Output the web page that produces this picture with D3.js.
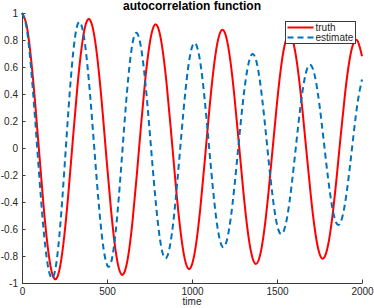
<!DOCTYPE html>
<html>
<head>
<meta charset="utf-8">
<script src="https://cdn.jsdelivr.net/npm/d3@7"></script>
<style>
  html, body { margin: 0; padding: 0; background: #fff; }
  svg { display: block; font-family: "Liberation Sans", Arial, Helvetica, sans-serif; }
</style>
</head>
<body>
<svg id="chart" width="374" height="308"></svg>
<script>
// ---- data ----
const time = [0,25,50,75,100,125,150,175,200,225,250,275,300,325,350,375,400,425,450,475,
  500,525,550,575,600,625,650,675,700,725,750,775,800,825,850,875,900,925,950,975,
  1000,1025,1050,1075,1100,1125,1150,1175,1200,1225,1250,1275,1300,1325,1350,1375,1400,1425,1450,1475,
  1500,1525,1550,1575,1600,1625,1650,1675,1700,1725,1750,1775,1800,1825,1850,1875,1900,1925,1950,1975,2000];

const truth = [1.000,0.922,0.700,0.369,-0.018,-0.400,-0.717,-0.918,-0.971,-0.872,
  -0.637,-0.304,0.075,0.442,0.737,0.916,0.949,0.834,0.590,0.254,
  -0.121,-0.475,-0.754,-0.913,-0.928,-0.798,-0.543,-0.204,0.165,0.506,
  0.765,0.901,0.894,0.746,0.484,0.147,-0.212,-0.535,-0.773,-0.889,
  -0.863,-0.703,-0.432,-0.095,0.256,0.564,0.782,0.874,0.828,0.653,
  0.376,0.043,-0.296,-0.588,-0.785,-0.859,-0.797,-0.610,-0.328,0.004,
  0.334,0.611,0.788,0.839,0.759,0.561,0.277,-0.049,-0.366,-0.624,
  -0.783,-0.816,-0.722,-0.515,-0.228,0.094,0.399,0.639,0.776,0.790,0.680];

const estimate = [1.000,0.905,0.638,0.251,-0.181,-0.575,-0.854,-0.964,-0.870,-0.574,
  -0.146,0.312,0.694,0.907,0.908,0.726,0.401,0.002,-0.393,-0.703,
  -0.865,-0.844,-0.632,-0.278,0.137,0.518,0.775,0.852,0.746,0.492,
  0.140,-0.237,-0.562,-0.768,-0.812,-0.691,-0.431,-0.085,0.274,0.573,
  0.747,0.765,0.623,0.354,0.014,-0.324,-0.589,-0.724,-0.705,-0.546,
  -0.280,0.039,0.346,0.578,0.690,0.659,0.492,0.226,-0.083,-0.367,
  -0.567,-0.638,-0.572,-0.386,-0.121,0.168,0.419,0.579,0.613,0.519,
  0.317,0.051,-0.220,-0.439,-0.557,-0.549,-0.412,-0.179,0.095,0.343,0.507];

const xTicks = [0, 500, 1000, 1500, 2000];
const yTicks = [-1, -0.8, -0.6, -0.4, -0.2, 0, 0.2, 0.4, 0.6, 0.8, 1];
const yTickLabels = ["-1", "-0.8", "-0.6", "-0.4", "-0.2", "0", "0.2", "0.4", "0.6", "0.8", "1"];
const seriesNames = ["truth", "estimate"];
const titleText = "autocorrelation function";
const xLabel = "time";

// ---- drawing ----
const svg = d3.select("#chart");
const x = d3.scaleLinear().domain([0, 2000]).range([22, 362]);
const y = d3.scaleLinear().domain([-1, 1]).range([283, 13]);

const axisColor = "#3a3a3a";

const gx = svg.append("g").attr("transform", "translate(0,283)")
  .call(d3.axisBottom(x).tickValues(xTicks).tickFormat(d3.format("d"))
    .tickSize(-3.5).tickSizeOuter(0).tickPadding(4.5));
const gy = svg.append("g").attr("transform", "translate(22,0)")
  .call(d3.axisLeft(y).tickValues(yTicks).tickFormat((d, i) => yTickLabels[i])
    .tickSize(-3.5).tickSizeOuter(0).tickPadding(4));

[gx, gy].forEach(g => {
  g.select(".domain").attr("stroke", axisColor);
  g.selectAll(".tick line").attr("stroke", axisColor);
  g.selectAll(".tick text").attr("fill", "#262626").style("font-size", "10px")
    .style("font-family", "'Liberation Sans', Arial, sans-serif");
});

const line = d3.line().x((d, i) => x(time[i])).y(d => y(d)).curve(d3.curveNatural);

svg.append("path").datum(truth)
  .attr("fill", "none").attr("stroke", "#ff0000").attr("stroke-width", 2)
  .attr("d", line);

svg.append("path").datum(estimate)
  .attr("fill", "none").attr("stroke", "#0072bd").attr("stroke-width", 2)
  .attr("stroke-dasharray", "6,4")
  .attr("d", line);

// title
svg.append("text").attr("x", 192).attr("y", 9.5).attr("text-anchor", "middle")
  .style("font-size", "12px").style("font-weight", "bold").attr("fill", "#000")
  .text(titleText);

// x label
svg.append("text").attr("x", 192).attr("y", 304.5).attr("text-anchor", "middle")
  .style("font-size", "10px").attr("fill", "#262626").text(xLabel);

// legend
const lg = svg.append("g");
lg.append("rect").attr("x", 285.5).attr("y", 21.5).attr("width", 70).attr("height", 22)
  .attr("fill", "#fff").attr("stroke", axisColor).attr("stroke-width", 1);
const styles = [
  { color: "#ff0000", dash: null },
  { color: "#0072bd", dash: "6,4" }
];
seriesNames.forEach((name, i) => {
  const yy = 27.5 + i * 10;
  lg.append("line").attr("x1", 287.5).attr("x2", 313.5).attr("y1", yy).attr("y2", yy)
    .attr("stroke", styles[i].color).attr("stroke-width", 2)
    .attr("stroke-dasharray", styles[i].dash);
  lg.append("text").attr("x", 315.5).attr("y", yy).attr("dy", "0.35em")
    .style("font-size", "10px").attr("fill", "#262626").text(name);
});
</script>
</body>
</html>
